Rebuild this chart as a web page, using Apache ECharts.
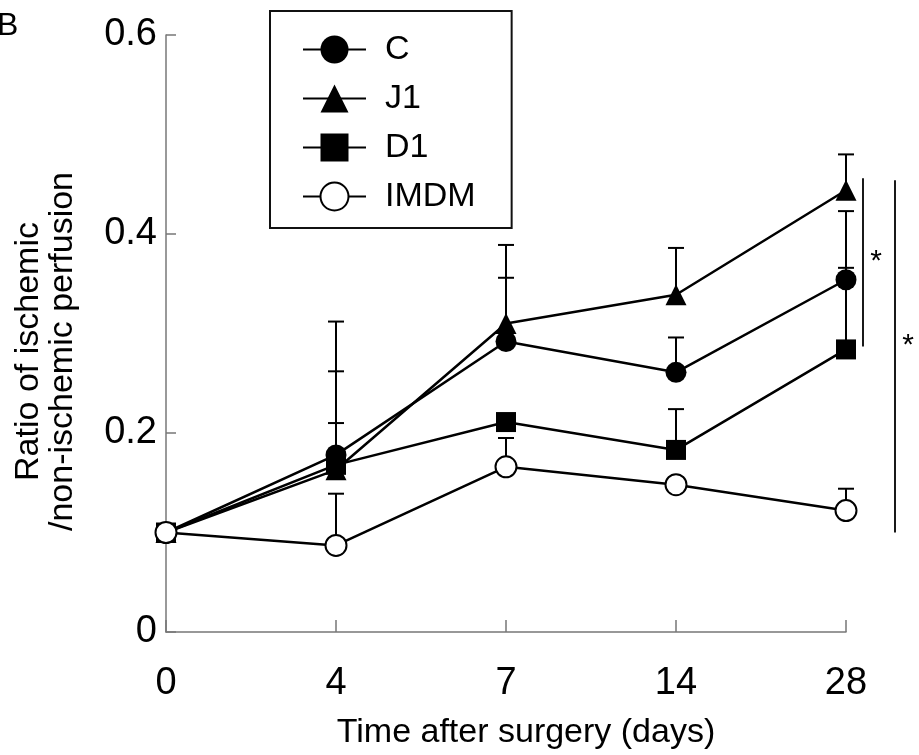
<!DOCTYPE html>
<html>
<head>
<meta charset="utf-8">
<script src="https://cdn.jsdelivr.net/npm/echarts@6/dist/echarts.min.js"></script>
<style>
html,body{margin:0;padding:0;background:#fff;}
#chart{width:919px;height:755px;}
</style>
</head>
<body>
<div id="chart"></div>
<script>
// ---- data ----
var days = ['0', '4', '7', '14', '28'];
var C_mean    = [0.100, 0.178, 0.292, 0.261, 0.354];
var C_sd      = [0.000, 0.084, 0.064, 0.035, 0.069];
var J1_mean   = [0.100, 0.163, 0.310, 0.339, 0.444];
var J1_sd     = [0.000, 0.149, 0.079, 0.047, 0.036];
var D1_mean   = [0.100, 0.168, 0.211, 0.183, 0.284];
var D1_sd     = [0.000, 0.042, 0.008, 0.041, 0.082];
var IMDM_mean = [0.100, 0.087, 0.166, 0.148, 0.122];
var IMDM_sd   = [0.000, 0.052, 0.029, 0.007, 0.022];
var sigTop    = [0.456, 0.454];
var sigBottom = [0.287, 0.100];
var sigStarY  = [0.372, 0.288];
var sigLabel  = ['*', '*'];
var yMin = 0, yMax = 0.6, yStep = 0.2;

// ---- build ----
var FONT = '"Liberation Sans", Arial, Helvetica, sans-serif';
var sigOffsets = [17, 49];

function errData(mean, sd) {
  return mean.map(function (m, i) { return [i, m, sd[i]]; });
}
function errSeries(mean, sd) {
  return {
    type: 'custom',
    z: 1,
    silent: true,
    clip: false,
    data: errData(mean, sd),
    renderItem: function (params, api) {
      var s = api.value(2);
      if (!(s > 0)) return null;
      var x = api.value(0), m = api.value(1);
      var p0 = api.coord([x, m]);
      var p1 = api.coord([x, m + s]);
      var st = { stroke: '#000', lineWidth: 2 };
      return {
        type: 'group',
        children: [
          { type: 'line', shape: { x1: p0[0], y1: p0[1], x2: p1[0], y2: p1[1] }, style: st },
          { type: 'line', shape: { x1: p1[0] - 8, y1: p1[1], x2: p1[0] + 8, y2: p1[1] }, style: st }
        ]
      };
    }
  };
}
function lineSeries(name, mean, symbol, size, fill) {
  return {
    name: name,
    type: 'line',
    z: 3,
    data: mean,
    symbol: symbol,
    symbolSize: size,
    showAllSymbol: true,
    lineStyle: { color: '#000', width: 2.5 },
    itemStyle: { color: fill, borderColor: '#000', borderWidth: fill === '#fff' ? 2 : 0 },
    emphasis: { disabled: true },
    animation: false
  };
}

var sigData = sigTop.map(function (t, i) { return [days.length - 1, t, sigBottom[i], sigStarY[i]]; });

var option = {
  animation: false,
  backgroundColor: '#fff',
  title: {
    text: 'B', left: -8, top: 5,
    textStyle: { fontFamily: FONT, fontSize: 32, fontWeight: 'normal', color: '#000' }
  },
  grid: { left: 166, right: 73, top: 35, bottom: 123, containLabel: false },
  legend: {
    orient: 'vertical',
    left: 270, top: 11,
    padding: [21, 36, 14, 32],
    borderColor: '#111', borderWidth: 2,
    itemWidth: 63, itemHeight: 35, itemGap: 14,
    selectedMode: false,
    textStyle: { fontFamily: FONT, fontSize: 34, color: '#000', padding: [0, 0, 0, 14], lineHeight: 35 },
    data: ['C', 'J1', 'D1', 'IMDM']
  },
  xAxis: {
    type: 'category',
    data: days,
    boundaryGap: false,
    name: 'Time after surgery (days)',
    nameLocation: 'middle',
    nameGap: 84,
    nameTextStyle: { fontFamily: FONT, fontSize: 34, color: '#000', padding: [0, 0, 0, 40] },
    axisLine: { lineStyle: { color: '#777', width: 1.5 } },
    axisTick: { inside: true, length: 12, alignWithLabel: true, lineStyle: { color: '#777', width: 1.5 } },
    axisLabel: { fontFamily: FONT, fontSize: 38, color: '#000', margin: 33 },
    splitLine: { show: false }
  },
  yAxis: {
    type: 'value',
    min: yMin, max: yMax, interval: yStep,
    name: 'Ratio of ischemic\n/non-ischemic perfusion',
    nameLocation: 'middle',
    nameRotate: 90,
    nameGap: 86,
    nameTextStyle: { fontFamily: FONT, fontSize: 34, color: '#000', lineHeight: 34, padding: [0, 36, 0, 0] },
    axisLine: { show: true, lineStyle: { color: '#777', width: 1.5 } },
    axisTick: { show: true, inside: true, length: 10, lineStyle: { color: '#777', width: 1.5 } },
    axisLabel: {
      fontFamily: FONT, fontSize: 38, color: '#000', margin: 9,
      formatter: function (v) { return v === 0 ? '0' : v.toFixed(1); }
    },
    splitLine: { show: false }
  },
  series: [
    errSeries(C_mean, C_sd),
    errSeries(J1_mean, J1_sd),
    errSeries(D1_mean, D1_sd),
    errSeries(IMDM_mean, IMDM_sd),
    lineSeries('D1', D1_mean, 'rect', 20, '#000'),
    lineSeries('J1', J1_mean, 'triangle', 21, '#000'),
    lineSeries('C', C_mean, 'circle', 21, '#000'),
    lineSeries('IMDM', IMDM_mean, 'circle', 21, '#fff'),
    {
      type: 'custom',
      silent: true,
      clip: false,
      z: 2,
      data: sigData,
      renderItem: function (params, api) {
        var off = sigOffsets[params.dataIndex];
        var pt = api.coord([api.value(0), api.value(1)]);
        var pb = api.coord([api.value(0), api.value(2)]);
        var ps = api.coord([api.value(0), api.value(3)]);
        var x = pt[0] + off;
        return {
          type: 'group',
          children: [
            { type: 'line', shape: { x1: x, y1: pt[1], x2: x, y2: pb[1] }, style: { stroke: '#000', lineWidth: 1.8 } },
            { type: 'text', style: { x: x + 13, y: ps[1], text: sigLabel[params.dataIndex],
              font: '30px ' + FONT, fill: '#000', align: 'center', verticalAlign: 'middle' } }
          ]
        };
      }
    }
  ]
};

var chart = echarts.init(document.getElementById('chart'), null, { renderer: 'canvas' });
chart.setOption(option);
</script>
</body>
</html>
